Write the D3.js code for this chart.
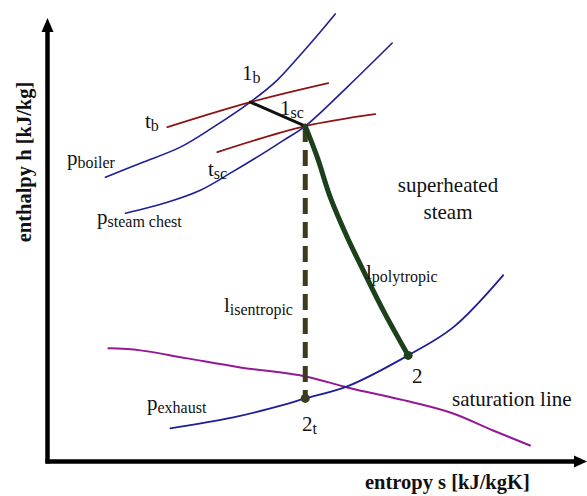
<!DOCTYPE html>
<html><head><meta charset="utf-8">
<script src="https://cdn.jsdelivr.net/npm/d3@7"></script>
<style>
html,body{margin:0;padding:0;background:#fff;}
svg{display:block;}
text{font-family:"Liberation Serif","Times New Roman",serif;fill:#111;}
</style></head>
<body>
<svg id="chart" width="587" height="496"></svg>
<script>
// ---- data (entropy s, enthalpy h in arbitrary diagram units) ----
const pBoiler = [[2.9,14.2],[4.65,14.9],[6.65,15.7],[8.3,16.7],[10.15,17.95],[11.5,19.05],[12.65,20.3],[13.65,21.45],[14.4,22.35]];
const pSteamChest = [[3.9,12.4],[6.0,12.95],[7.65,13.55],[9.15,14.4],[10.65,15.3],[11.75,16.0],[12.9,16.75],[15.0,18.7],[17.25,20.9]];
const pExhaust = [[6.15,1.65],[9.3,2.2],[11.9,2.85],[12.9,3.15],[15.0,3.75],[18.05,5.3],[20.3,6.7],[22.8,9.3]];
const saturationLine = [[3.05,5.65],[4.65,5.55],[7.0,5.15],[9.65,4.7],[12.9,4.25],[15.0,3.7],[18.3,2.95],[20.3,2.4],[22.3,1.55],[24.15,0.8]];
const tBoiler = [[6.0,16.7],[10.15,17.95],[14.05,18.9]];
const tSteamChest = [[8.5,15.45],[12.9,16.75],[16.4,17.35]];
const throttling = [[10.15,17.95],[12.9,16.75]];
const polytropic = [[12.9,16.75],[13.5,15.2],[14.15,13.2],[15.0,11.2],[15.8,9.55],[16.8,7.55],[18.05,5.3]];
const isentropic = [[12.9,16.75],[12.9,3.15]];
const statePoints = [[18.05,5.3],[12.9,3.15]];
const xAxisLabel = "entropy s [kJ/kgK]";
const yAxisLabel = "enthalpy h [kJ/kg]";

const svg = d3.select("#chart");
const x = d3.scaleLinear().domain([0,27]).range([47.5,587]);
const y = d3.scaleLinear().domain([0,22]).range([461.5,21]);
const line = d3.line().x(d=>x(d[0])).y(d=>y(d[1])).curve(d3.curveCatmullRom.alpha(0.5));
const straight = d3.line().x(d=>x(d[0])).y(d=>y(d[1]));

function curve(data, color, w, gen, dash){
  const p = svg.append("path").attr("d",(gen||line)(data)).attr("fill","none")
    .attr("stroke",color).attr("stroke-width",w).attr("stroke-linecap","round").attr("stroke-linejoin","round");
  if(dash) p.attr("stroke-dasharray",dash).attr("stroke-linecap","butt");
  return p;
}

// axes
const x0 = x(0), y0 = y(0), xEnd = x.range()[1], yTop = 18;
svg.append("line").attr("x1",x0).attr("y1",y0+2).attr("x2",x0).attr("y2",yTop+12)
  .attr("stroke","#000").attr("stroke-width",4.5);
svg.append("line").attr("x1",x0-2).attr("y1",y0).attr("x2",xEnd-11).attr("y2",y0)
  .attr("stroke","#000").attr("stroke-width",4.5);
svg.append("path").attr("d",`M${x0},${yTop}L${x0-6},${yTop+14}L${x0+6},${yTop+14}Z`).attr("fill","#000");
svg.append("path").attr("d",`M${xEnd},${y0}L${xEnd-13},${y0-6}L${xEnd-13},${y0+6}Z`).attr("fill","#000");

svg.append("text").attr("x",365).attr("y",489).attr("font-size",20.5).attr("font-weight","bold").text(xAxisLabel);
svg.append("text").attr("transform","translate(31,162) rotate(-90)").attr("text-anchor","middle")
  .attr("font-size",20.5).attr("font-weight","bold").text(yAxisLabel);

// curves
curve(saturationLine,"#931a93",2);
curve(pBoiler,"#1e1e96",1.6);
curve(pSteamChest,"#1e1e96",1.6);
curve(pExhaust,"#1e1e96",1.8);
curve(tBoiler,"#8c1414",1.8);
curve(tSteamChest,"#8c1414",1.8);
curve(isentropic,"#3d3b1c",5,straight,"16,8");
curve(throttling,"#111",3,straight);
curve(polytropic,"#1c401c",5);
svg.selectAll("circle.pt").data(statePoints).enter().append("circle")
  .attr("cx",d=>x(d[0])).attr("cy",d=>y(d[1])).attr("r",4.5)
  .attr("fill",(d,i)=>i===0?"#1c401c":"#3d3b1c");

// labels
function label(px,py,main,sub,anchor){
  const t = svg.append("text").attr("x",px).attr("y",py).attr("font-size",21);
  if(anchor) t.attr("text-anchor",anchor);
  t.append("tspan").text(main);
  if(sub) t.append("tspan").attr("font-size",16).attr("dy",2.5).text(sub);
}
label(242,80,"1","b");
label(280,115,"1","sc");
label(145,128,"t","b");
label(208,176,"t","sc");
label(67,165,"p","boiler");
label(97,224,"p","steam chest");
label(448,192,"superheated",null,"middle");
label(448,219,"steam",null,"middle");
label(366,279,"l","polytropic");
label(224,312,"l","isentropic");
label(412,383,"2");
label(302,431,"2","t");
label(452,406,"saturation line");
label(147,410,"p","exhaust");
</script>
</body></html>
